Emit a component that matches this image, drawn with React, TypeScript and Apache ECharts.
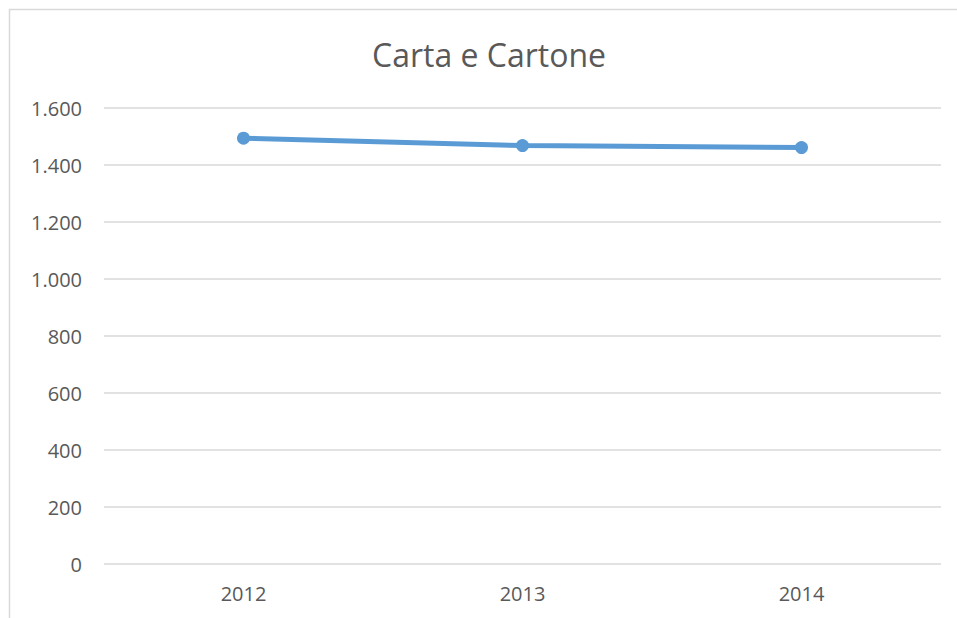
import React, { useEffect, useRef } from "react";
import * as echarts from "echarts";

const TITLE = "Carta e Cartone";
const categories = ["2012", "2013", "2014"];
const values = [1494, 1468, 1461];
const yTicks = { min: 0, max: 1600, interval: 200 };

const fmt = (v: number) => String(v).replace(/\B(?=(\d{3})+(?!\d))/g, ".");

export default function App() {
  const ref = useRef<HTMLDivElement>(null);
  useEffect(() => {
    document.body.style.margin = "0";
    const chart = echarts.init(ref.current!, null, { renderer: "svg" });
    chart.setOption({
      animation: false,
      backgroundColor: "#ffffff",
      textStyle: { fontFamily: "Open Sans" },
      title: {
        text: TITLE,
        left: 367,
        top: 33,
        textStyle: { fontFamily: "Open Sans", fontSize: 32, fontWeight: "normal", color: "#595959" },
      },
      graphic: [
        {
          type: "rect",
          shape: { x: 9.5, y: 9.5, width: 960, height: 700 },
          style: { fill: "none", stroke: "#D9D9D9", lineWidth: 1.5 },
          silent: true,
          z: -1,
        },
      ],
      grid: { left: 104, right: 16, top: 108, bottom: 54 },
      xAxis: {
        type: "category",
        data: categories,
        axisLine: { show: false },
        axisTick: { show: false },
        axisLabel: { color: "#595959", fontSize: 20, fontFamily: "Open Sans", margin: 19 },
      },
      yAxis: {
        type: "value",
        min: yTicks.min,
        max: yTicks.max,
        interval: yTicks.interval,
        axisLine: { show: false },
        axisTick: { show: false },
        splitLine: { lineStyle: { color: "#D9D9D9", width: 1.5 } },
        axisLabel: {
          color: "#595959",
          fontSize: 20,
          fontFamily: "Open Sans",
          margin: 22,
          formatter: (v: number) => fmt(v),
        },
      },
      series: [
        {
          type: "line",
          data: values,
          symbol: "circle",
          symbolSize: 13,
          lineStyle: { color: "#5B9BD5", width: 5 },
          itemStyle: { color: "#5B9BD5" },
        },
      ],
    });
    return () => chart.dispose();
  }, []);
  return <div ref={ref} style={{ width: 957, height: 618 }} />;
}
